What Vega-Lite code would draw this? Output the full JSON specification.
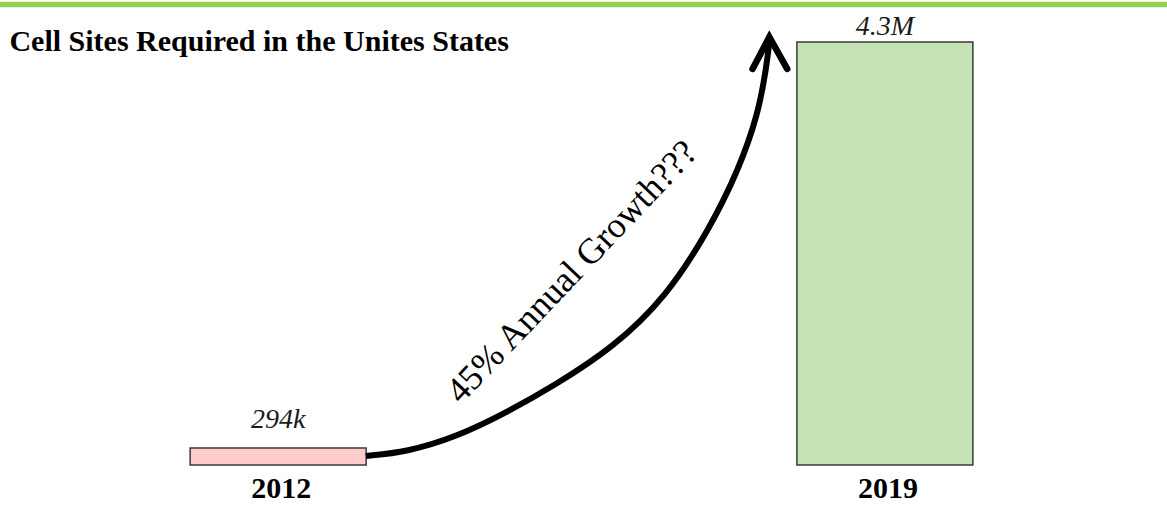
{
  "$schema": "https://vega.github.io/schema/vega-lite/v6.json",
  "width": 1167,
  "height": 505,
  "autosize": {"type": "none"},
  "padding": 0,
  "background": "white",
  "config": {"view": {"stroke": null}},
  "datasets": {
    "bars": [
      {"year": 2012, "sites": 294, "label": "294k"},
      {"year": 2019, "sites": 4300, "label": "4.3M"}
    ],
    "curve": [
      {"year": 2013.012, "sites": 215},
      {"year": 2013.481, "sites": 254},
      {"year": 2014.053, "sites": 402},
      {"year": 2014.625, "sites": 639},
      {"year": 2015.197, "sites": 916},
      {"year": 2015.86, "sites": 1281},
      {"year": 2016.478, "sites": 1784},
      {"year": 2016.97, "sites": 2445},
      {"year": 2017.313, "sites": 3037},
      {"year": 2017.542, "sites": 3599},
      {"year": 2017.633, "sites": 4053},
      {"year": 2017.667, "sites": 4300}
    ],
    "arrowhead": [
      {"year": 2017.473, "sites": 4034},
      {"year": 2017.667, "sites": 4349},
      {"year": 2017.873, "sites": 4034}
    ],
    "note": [
      {"year": 2015.391, "sites": 2031, "text": "45% Annual Growth???"}
    ],
    "heading": [
      {"year": 2008.9, "sites": 4211, "text": "Cell Sites Required in the Unites States"}
    ],
    "topline": [
      {"sites": 4670}
    ]
  },
  "layer": [
    {
      "data": {"name": "topline"},
      "mark": {"type": "rule", "color": "#92D050", "strokeWidth": 5.5},
      "encoding": {
        "y": {"field": "sites", "type": "quantitative", "scale": {"domain": [-268.4, 4714.4], "nice": false, "zero": false}, "axis": null}
      }
    },
    {
      "data": {"name": "bars"},
      "mark": {"type": "bar", "width": 176, "stroke": "#3a3a3a", "strokeWidth": 1.5},
      "encoding": {
        "x": {"field": "year", "type": "quantitative", "scale": {"domain": [2008.849, 2022.197], "nice": false, "zero": false}, "axis": null},
        "y": {"field": "sites", "type": "quantitative", "scale": {"domain": [-268.4, 4714.4], "nice": false, "zero": false}, "axis": null},
        "y2": {"datum": 126.2},
        "color": {
          "field": "label",
          "type": "nominal",
          "scale": {"domain": ["294k", "4.3M"], "range": ["#FFCCCC", "#C6E3B5"]},
          "legend": null
        }
      }
    },
    {
      "data": {"name": "heading"},
      "mark": {"type": "text", "font": "Liberation Serif", "fontSize": 30, "fontWeight": "bold", "align": "left", "baseline": "alphabetic", "color": "#000000"},
      "encoding": {
        "x": {"field": "year", "type": "quantitative"},
        "y": {"field": "sites", "type": "quantitative"},
        "text": {"field": "text"}
      }
    },
    {
      "data": {"name": "bars"},
      "transform": [{"filter": "datum.year == 2012"}],
      "mark": {"type": "text", "font": "Liberation Serif", "fontSize": 28, "fontStyle": "italic", "align": "center", "baseline": "alphabetic", "dy": -20, "color": "#1a1a1a"},
      "encoding": {
        "x": {"field": "year", "type": "quantitative"},
        "y": {"field": "sites", "type": "quantitative"},
        "text": {"field": "label"}
      }
    },
    {
      "data": {"name": "bars"},
      "transform": [{"filter": "datum.year == 2019"}],
      "mark": {"type": "text", "font": "Liberation Serif", "fontSize": 28, "fontStyle": "italic", "align": "center", "baseline": "alphabetic", "dy": -7, "color": "#1a1a1a"},
      "encoding": {
        "x": {"field": "year", "type": "quantitative"},
        "y": {"field": "sites", "type": "quantitative"},
        "text": {"field": "label"}
      }
    },
    {
      "data": {"name": "bars"},
      "mark": {"type": "text", "font": "Liberation Serif", "fontSize": 30, "fontWeight": "bold", "align": "center", "baseline": "alphabetic", "dx": 3, "color": "#000000"},
      "encoding": {
        "x": {"field": "year", "type": "quantitative"},
        "y": {"datum": -199},
        "text": {"field": "year", "type": "quantitative", "format": "d"}
      }
    },
    {
      "data": {"name": "curve"},
      "mark": {"type": "line", "color": "#000000", "strokeWidth": 6, "interpolate": "basis"},
      "encoding": {
        "x": {"field": "year", "type": "quantitative"},
        "y": {"field": "sites", "type": "quantitative"}
      }
    },
    {
      "data": {"name": "arrowhead"},
      "mark": {"type": "line", "color": "#000000", "strokeWidth": 6.5, "strokeCap": "round", "strokeJoin": "miter"},
      "encoding": {
        "x": {"field": "year", "type": "quantitative"},
        "y": {"field": "sites", "type": "quantitative"}
      }
    },
    {
      "data": {"name": "note"},
      "mark": {"type": "text", "font": "Liberation Serif", "fontSize": 36, "angle": 313.5, "align": "center", "baseline": "middle", "color": "#000000"},
      "encoding": {
        "x": {"field": "year", "type": "quantitative"},
        "y": {"field": "sites", "type": "quantitative"},
        "text": {"field": "text"}
      }
    }
  ]
}
